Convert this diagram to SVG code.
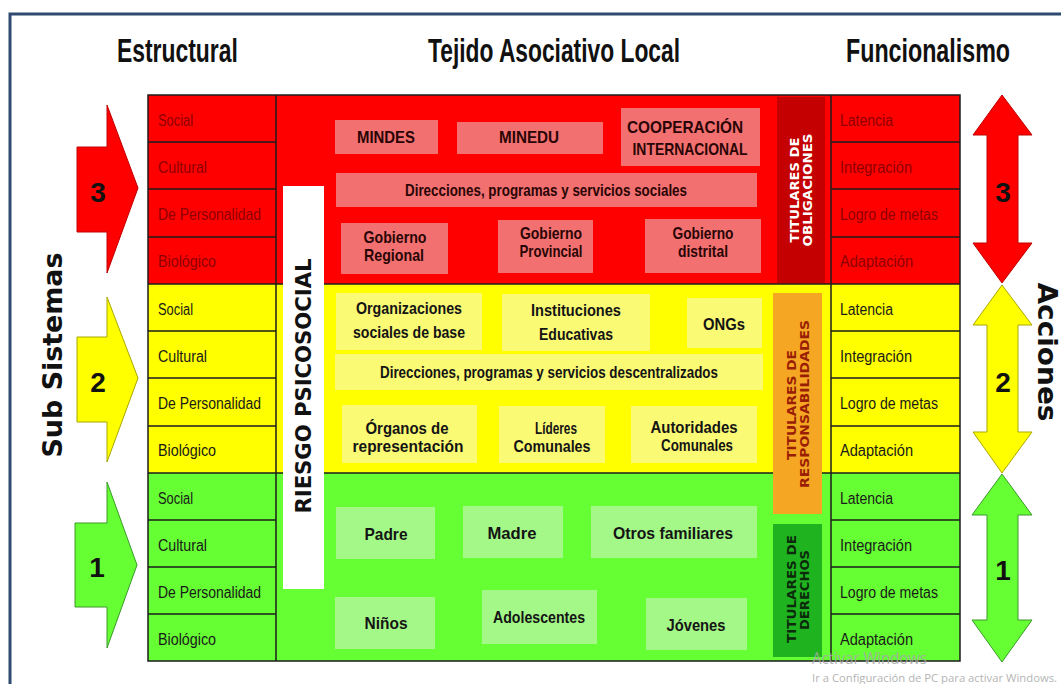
<svg xmlns="http://www.w3.org/2000/svg" width="1061" height="684" viewBox="0 0 1061 684">
<style>
.hdr{font-family:"Liberation Sans Narrow","Liberation Sans",sans-serif;font-weight:bold;font-size:34px;fill:#111}
.lbl{font-family:"Liberation Sans Narrow","Liberation Sans",sans-serif;font-size:16px}
.lr{fill:#8e0000}
.lk{fill:#1a1a1a}
.bt{font-family:"Liberation Sans Narrow","Liberation Sans",sans-serif;font-weight:bold;font-size:17px;text-anchor:middle}
.btr{fill:#2a0505}
.btk{fill:#141414}
.tit{font-family:"DejaVu Sans","Liberation Sans",sans-serif;font-weight:bold;font-size:11.5px;text-anchor:middle}
.num{font-family:"Liberation Sans Narrow","Liberation Sans",sans-serif;font-weight:bold;font-size:28px;text-anchor:middle;fill:#111}
.big{font-family:"DejaVu Sans","Liberation Sans",sans-serif;font-weight:bold;text-anchor:middle;fill:#111}
.grid{stroke:#1c1c1c;stroke-width:1.5;fill:none}
.bxr{fill:#f27070}
.bxy{fill:#fafa74}
.bxg{fill:#a4f888}
.wm{font-family:"Open Sans","Liberation Sans",sans-serif;fill:#a8a8a8}
</style>

<!-- outer frame -->
<rect x="10" y="14" width="1070" height="700" fill="#ffffff" stroke="#2e4a70" stroke-width="3"/>

<!-- headers -->
<g id="headers">
<text class="hdr" transform="translate(117,62) scale(0.8,1)" textLength="151" lengthAdjust="spacingAndGlyphs">Estructural</text>
<text class="hdr" transform="translate(428,62) scale(0.8,1)" textLength="315" lengthAdjust="spacingAndGlyphs">Tejido Asociativo Local</text>
<text class="hdr" transform="translate(846,62) scale(0.8,1)" textLength="205" lengthAdjust="spacingAndGlyphs">Funcionalismo</text>
</g>

<text class="big" font-size="27" transform="translate(62,355) rotate(-90)" textLength="205" lengthAdjust="spacingAndGlyphs">Sub Sistemas</text>
<text class="big" font-size="27" transform="translate(1038,352) rotate(90)" textLength="139" lengthAdjust="spacingAndGlyphs">Acciones</text>

<!-- bands -->
<g id="bands">
<rect x="148" y="95" width="812" height="189" fill="#ff0000"/>
<rect x="148" y="284" width="812" height="189" fill="#ffff00"/>
<rect x="148" y="473" width="812" height="188" fill="#66ff33"/>
</g>

<!-- grid -->
<g id="grid" class="grid">
<rect x="148" y="95" width="812" height="566"/>
<line x1="148" y1="284" x2="960" y2="284"/>
<line x1="148" y1="473" x2="960" y2="473"/>
<line x1="276" y1="95" x2="276" y2="661"/>
<line x1="831" y1="95" x2="831" y2="661"/>
<path d="M148 142H276M148 189H276M148 237H276M148 331H276M148 378H276M148 426H276M148 520H276M148 567H276M148 614H276"/>
<path d="M831 142H960M831 189H960M831 237H960M831 331H960M831 378H960M831 426H960M831 520H960M831 567H960M831 614H960"/>
</g>

<!-- left column labels -->
<g id="estructural-labels" class="lbl">
<text class="lr" x="158" y="126" textLength="35" lengthAdjust="spacingAndGlyphs">Social</text>
<text class="lr" x="158" y="173" textLength="49" lengthAdjust="spacingAndGlyphs">Cultural</text>
<text class="lr" x="158" y="220" textLength="103" lengthAdjust="spacingAndGlyphs">De Personalidad</text>
<text class="lr" x="158" y="267" textLength="58" lengthAdjust="spacingAndGlyphs">Biológico</text>
<text class="lk" x="158" y="315" textLength="35" lengthAdjust="spacingAndGlyphs">Social</text>
<text class="lk" x="158" y="362" textLength="49" lengthAdjust="spacingAndGlyphs">Cultural</text>
<text class="lk" x="158" y="409" textLength="103" lengthAdjust="spacingAndGlyphs">De Personalidad</text>
<text class="lk" x="158" y="456" textLength="58" lengthAdjust="spacingAndGlyphs">Biológico</text>
<text class="lk" x="158" y="504" textLength="35" lengthAdjust="spacingAndGlyphs">Social</text>
<text class="lk" x="158" y="551" textLength="49" lengthAdjust="spacingAndGlyphs">Cultural</text>
<text class="lk" x="158" y="598" textLength="103" lengthAdjust="spacingAndGlyphs">De Personalidad</text>
<text class="lk" x="158" y="645" textLength="58" lengthAdjust="spacingAndGlyphs">Biológico</text>
</g>

<!-- right column labels -->
<g id="funcional-labels" class="lbl">
<text class="lr" x="840" y="126" textLength="53" lengthAdjust="spacingAndGlyphs">Latencia</text>
<text class="lr" x="840" y="173" textLength="72" lengthAdjust="spacingAndGlyphs">Integración</text>
<text class="lr" x="840" y="220" textLength="98" lengthAdjust="spacingAndGlyphs">Logro de metas</text>
<text class="lr" x="840" y="267" textLength="73" lengthAdjust="spacingAndGlyphs">Adaptación</text>
<text class="lk" x="840" y="315" textLength="53" lengthAdjust="spacingAndGlyphs">Latencia</text>
<text class="lk" x="840" y="362" textLength="72" lengthAdjust="spacingAndGlyphs">Integración</text>
<text class="lk" x="840" y="409" textLength="98" lengthAdjust="spacingAndGlyphs">Logro de metas</text>
<text class="lk" x="840" y="456" textLength="73" lengthAdjust="spacingAndGlyphs">Adaptación</text>
<text class="lk" x="840" y="504" textLength="53" lengthAdjust="spacingAndGlyphs">Latencia</text>
<text class="lk" x="840" y="551" textLength="72" lengthAdjust="spacingAndGlyphs">Integración</text>
<text class="lk" x="840" y="598" textLength="98" lengthAdjust="spacingAndGlyphs">Logro de metas</text>
<text class="lk" x="840" y="645" textLength="73" lengthAdjust="spacingAndGlyphs">Adaptación</text>
</g>

<!-- riesgo psicosocial -->
<g id="riesgo">
<rect x="283" y="186" width="41" height="403" fill="#ffffff"/>
<text class="big" font-size="21" transform="translate(311,386) rotate(-90)" textLength="255" lengthAdjust="spacingAndGlyphs">RIESGO PSICOSOCIAL</text>
</g>

<!-- titulares -->
<g id="tit-obligaciones">
<rect x="777" y="97" width="48" height="186" fill="#c40000"/>
<text class="tit" fill="#ffffff" transform="translate(799,190) rotate(-90)" textLength="105" lengthAdjust="spacingAndGlyphs">TITULARES DE</text>
<text class="tit" fill="#ffffff" transform="translate(812,190) rotate(-90)" textLength="113" lengthAdjust="spacingAndGlyphs">OBLIGACIONES</text>
</g>
<g id="tit-responsabilidades">
<rect x="773" y="293" width="49" height="221" fill="#f5a623"/>
<text class="tit" fill="#9a1e05" transform="translate(796,405) rotate(-90)" textLength="110" lengthAdjust="spacingAndGlyphs">TITULARES DE</text>
<text class="tit" fill="#9a1e05" transform="translate(809,404) rotate(-90)" textLength="168" lengthAdjust="spacingAndGlyphs">RESPONSABILIDADES</text>
</g>
<g id="tit-derechos">
<rect x="773" y="524" width="49" height="133" fill="#1fb41f"/>
<text class="tit" fill="#0c2a0c" transform="translate(796,589) rotate(-90)" textLength="108" lengthAdjust="spacingAndGlyphs">TITULARES DE</text>
<text class="tit" fill="#0c2a0c" transform="translate(809,590) rotate(-90)" textLength="80" lengthAdjust="spacingAndGlyphs">DERECHOS</text>
</g>

<!-- red band boxes -->
<g id="mindes"><rect class="bxr" x="335" y="120" width="103" height="34"/><text class="bt btr" x="386" y="143" textLength="58" lengthAdjust="spacingAndGlyphs">MINDES</text></g>
<g id="minedu"><rect class="bxr" x="457" y="122" width="146" height="32"/><text class="bt btr" x="529" y="143" textLength="60" lengthAdjust="spacingAndGlyphs">MINEDU</text></g>
<g id="cooperacion"><rect class="bxr" x="621" y="108" width="139" height="58"/><text class="bt btr" x="685" y="133" textLength="116" lengthAdjust="spacingAndGlyphs">COOPERACIÓN</text><text class="bt btr" x="690" y="155" textLength="115" lengthAdjust="spacingAndGlyphs">INTERNACIONAL</text></g>
<g id="direcciones-sociales"><rect class="bxr" x="336" y="173" width="421" height="34"/><text class="bt btr" x="546" y="196" textLength="282" lengthAdjust="spacingAndGlyphs">Direcciones, programas y servicios sociales</text></g>
<g id="gob-regional"><rect class="bxr" x="341" y="223" width="107" height="51"/><text class="bt btr" x="395" y="243" textLength="63" lengthAdjust="spacingAndGlyphs">Gobierno</text><text class="bt btr" x="394" y="261" textLength="60" lengthAdjust="spacingAndGlyphs">Regional</text></g>
<g id="gob-provincial"><rect class="bxr" x="498" y="220" width="95" height="53"/><text class="bt btr" x="551" y="239" textLength="62" lengthAdjust="spacingAndGlyphs">Gobierno</text><text class="bt btr" x="551" y="257" textLength="63" lengthAdjust="spacingAndGlyphs">Provincial</text></g>
<g id="gob-distrital"><rect class="bxr" x="645" y="219" width="116" height="54"/><text class="bt btr" x="703" y="239" textLength="61" lengthAdjust="spacingAndGlyphs">Gobierno</text><text class="bt btr" x="703" y="257" textLength="50" lengthAdjust="spacingAndGlyphs">distrital</text></g>

<!-- yellow band boxes -->
<g id="osb"><rect class="bxy" x="336" y="293" width="146" height="57"/><text class="bt btk" x="409" y="314" textLength="106" lengthAdjust="spacingAndGlyphs">Organizaciones</text><text class="bt btk" x="409" y="338" textLength="112" lengthAdjust="spacingAndGlyphs">sociales de base</text></g>
<g id="instituciones"><rect class="bxy" x="502" y="294" width="148" height="57"/><text class="bt btk" x="576" y="316" textLength="90" lengthAdjust="spacingAndGlyphs">Instituciones</text><text class="bt btk" x="576" y="340" textLength="74" lengthAdjust="spacingAndGlyphs">Educativas</text></g>
<g id="ongs"><rect class="bxy" x="687" y="298" width="75" height="50"/><text class="bt btk" x="724" y="330" textLength="42" lengthAdjust="spacingAndGlyphs">ONGs</text></g>
<g id="direcciones-desc"><rect class="bxy" x="335" y="354" width="428" height="36"/><text class="bt btk" x="549" y="378" textLength="338" lengthAdjust="spacingAndGlyphs">Direcciones, programas y servicios descentralizados</text></g>
<g id="organos"><rect class="bxy" x="342" y="405" width="135" height="58"/><text class="bt btk" x="407" y="434" textLength="83" lengthAdjust="spacingAndGlyphs">Órganos de</text><text class="bt btk" x="408" y="452" textLength="111" lengthAdjust="spacingAndGlyphs">representación</text></g>
<g id="lideres"><rect class="bxy" x="499" y="406" width="106" height="57"/><text class="bt btk" x="556" y="434" textLength="42" lengthAdjust="spacingAndGlyphs">Líderes</text><text class="bt btk" x="552" y="452" textLength="77" lengthAdjust="spacingAndGlyphs">Comunales</text></g>
<g id="autoridades"><rect class="bxy" x="631" y="406" width="126" height="57"/><text class="bt btk" x="694" y="433" textLength="87" lengthAdjust="spacingAndGlyphs">Autoridades</text><text class="bt btk" x="697" y="451" textLength="72" lengthAdjust="spacingAndGlyphs">Comunales</text></g>

<!-- green band boxes -->
<g id="padre"><rect class="bxg" x="336" y="507" width="99" height="52"/><text class="bt btk" x="386" y="540" textLength="43" lengthAdjust="spacingAndGlyphs">Padre</text></g>
<g id="madre"><rect class="bxg" x="463" y="506" width="100" height="52"/><text class="bt btk" x="512" y="539" textLength="49" lengthAdjust="spacingAndGlyphs">Madre</text></g>
<g id="otros"><rect class="bxg" x="591" y="506" width="166" height="52"/><text class="bt btk" x="673" y="539" textLength="120" lengthAdjust="spacingAndGlyphs">Otros familiares</text></g>
<g id="ninos"><rect class="bxg" x="335" y="597" width="100" height="52"/><text class="bt btk" x="386" y="629" textLength="43" lengthAdjust="spacingAndGlyphs">Niños</text></g>
<g id="adolescentes"><rect class="bxg" x="482" y="590" width="115" height="54"/><text class="bt btk" x="539" y="623" textLength="92" lengthAdjust="spacingAndGlyphs">Adolescentes</text></g>
<g id="jovenes"><rect class="bxg" x="646" y="598" width="101" height="52"/><text class="bt btk" x="696" y="631" textLength="59" lengthAdjust="spacingAndGlyphs">Jóvenes</text></g>

<!-- connectors: left and right arrows -->
<g id="connectors">
<g id="arrow-left-3"><polygon points="77,147 107,147 107,105 138,188 107,273 107,232 77,232" fill="#ff0000" stroke="#c00000" stroke-width="1"/><text class="num" x="98" y="202">3</text></g>
<g id="arrow-left-2"><polygon points="77,337 107,337 107,297 138,378 107,462 107,422 77,422" fill="#ffff00" stroke="#a8a800" stroke-width="1"/><text class="num" x="98" y="392">2</text></g>
<g id="arrow-left-1"><polygon points="75,523 107,523 107,482 137,565 107,648 107,607 75,607" fill="#66ff33" stroke="#3a9a2a" stroke-width="1"/><text class="num" x="97" y="577">1</text></g>
<g id="arrow-right-3"><polygon points="1002,95 1032,135 1018,135 1018,243 1032,243 1002,283 973,243 987,243 987,135 973,135" fill="#ff0000" stroke="#c00000" stroke-width="1"/><text class="num" x="1003" y="202">3</text></g>
<g id="arrow-right-2"><polygon points="1002,285 1032,325 1018,325 1018,432 1032,432 1002,473 973,432 987,432 987,325 973,325" fill="#ffff00" stroke="#a8a800" stroke-width="1"/><text class="num" x="1003" y="392">2</text></g>
<g id="arrow-right-1"><polygon points="1002,474 1032,515 1018,515 1018,620 1032,620 1002,662 972,620 987,620 987,515 972,515" fill="#66ff33" stroke="#3a9a2a" stroke-width="1"/><text class="num" x="1003" y="580">1</text></g>
</g>

<!-- watermark -->
<text class="wm" x="812" y="664" font-size="16" opacity="0.85" textLength="115" lengthAdjust="spacingAndGlyphs">Activar Windows</text>
<text class="wm" x="812" y="682" font-size="10" opacity="0.85" textLength="245" lengthAdjust="spacingAndGlyphs">Ir a Configuración de PC para activar Windows.</text>
</svg>
